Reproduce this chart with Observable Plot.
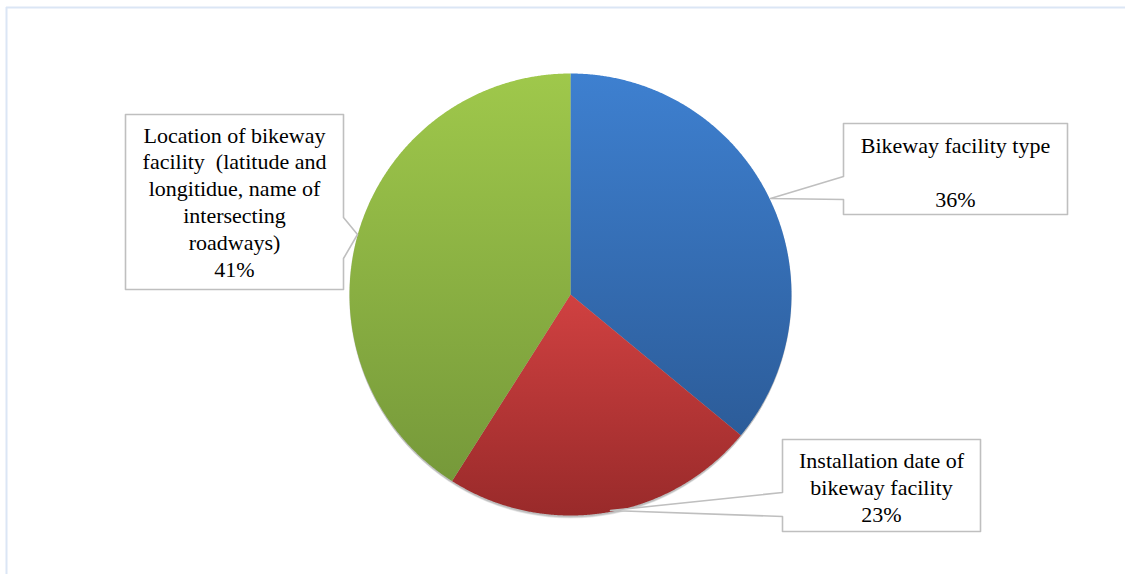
<!DOCTYPE html>
<html><head><meta charset="utf-8">
<script src="https://cdn.jsdelivr.net/npm/d3@7"></script>
<script src="https://cdn.jsdelivr.net/npm/@observablehq/plot@0.6"></script>
<style>body{margin:0;background:#fff}#chart svg{display:block}</style>
</head><body><div id="chart"></div>
<script>
// ---- data ----
const categories = [
  "Bikeway facility type",
  "Installation date of bikeway facility",
  "Location of bikeway facility (latitude and longitidue, name of intersecting roadways)"
];
const shares = [36, 23, 41];
const labelLines = [
  ["Bikeway facility type", "", "36%"],
  ["Installation date of", "bikeway facility", "23%"],
  ["Location of bikeway", "facility  (latitude and", "longitidue, name of", "intersecting", "roadways)", "41%"]
];

// ---- styles ----
const gradTop = ["#3e80d0", "#d04141", "#9fc84b"];
const gradBottom = ["#2c5c99", "#992a2a", "#76993a"];

// ---- layout ----
const W = 1125, H = 574;
const cx = 570, cy = 294, R = 221;
const callouts = [
  {L: 843, R: 1067, T: 123, B: 214, side: "left", p1: 176, p2: 199, tip: [770, 198], base: 152, lh: 27},
  {L: 782, R: 980, T: 439, B: 531, side: "left", p1: 492, p2: 516, tip: [610, 510], base: 467, lh: 27},
  {L: 125, R: 343, T: 114, B: 289, side: "right", p1: 217, p2: 258, tip: [357, 234], base: 142, lh: 26.8}
];
const shadowSteps = [1, 2, 3, 4];

// slices from data
const arcs = d3.pie().sort(null).value(d => d)(shares);
const slicePts = arcs.map(a => {
  const pts = [{x: cx, y: cy}];
  const n = Math.max(8, Math.ceil((a.endAngle - a.startAngle) / 0.005));
  for (let i = 0; i <= n; i++) {
    const t = a.startAngle + (a.endAngle - a.startAngle) * i / n;
    pts.push({x: cx + R * Math.sin(t), y: cy - R * Math.cos(t)});
  }
  return pts;
});

function calloutPoly(c) {
  if (c.side === "left") {
    return [[c.L, c.T], [c.R, c.T], [c.R, c.B], [c.L, c.B], [c.L, c.p2], c.tip, [c.L, c.p1], [c.L, c.T]]
      .map(([x, y]) => ({x, y}));
  }
  return [[c.L, c.T], [c.R, c.T], [c.R, c.p1], c.tip, [c.R, c.p2], [c.R, c.B], [c.L, c.B], [c.L, c.T]]
    .map(([x, y]) => ({x, y}));
}

const textMarks = labelLines.map((lines, i) => {
  const c = callouts[i];
  const rows = lines.map((t, j) => ({x: (c.L + c.R) / 2, y: c.base + j * c.lh, text: t}));
  return Plot.text(rows, {x: "x", y: "y", text: "text", textAnchor: "middle", lineAnchor: "bottom",
    fontFamily: "Liberation Serif", fontSize: 22});
});

const marks = [
  Plot.ruleY([7], {x1: 6, x2: W, stroke: "#dbe6f5", strokeWidth: 2}),
  Plot.ruleX([6], {y1: 7, y2: H, stroke: "#dbe6f5", strokeWidth: 2}),
  Plot.dot(shadowSteps.map(k => ({x: cx, y: cy + k, k})), {x: "x", y: "y", r: d => R + 1 - d.k * 0.5, fill: "#000", fillOpacity: 0.07, stroke: "none"}),
  ...slicePts.map((pts, i) => Plot.line(pts, {x: "x", y: "y", fill: `url(#grad${i})`, stroke: "none"})),
  ...callouts.map(c => Plot.line(calloutPoly(c), {x: "x", y: "y", fill: "#fff", stroke: "#bfbfbf", strokeWidth: 1.6})),
  ...textMarks
];

const svg = Plot.plot({
  width: W, height: H, margin: 0,
  x: {domain: [0, W], range: [0, W], axis: null},
  y: {domain: [0, H], range: [0, H], axis: null},
  r: {type: "identity"},
  style: {background: "#fff", fontFamily: "Liberation Serif"},
  marks
});

const s = d3.select(svg);
s.attr("font-family", "Liberation Serif");
s.selectAll("text").attr("font-family", "Liberation Serif").attr("fill", "#000");
const defs = s.append("defs");
gradTop.forEach((c, i) => {
  const g = defs.append("linearGradient").attr("id", `grad${i}`)
    .attr("x1", 0).attr("y1", 0).attr("x2", 0).attr("y2", 1);
  g.append("stop").attr("offset", "0%").attr("stop-color", c);
  g.append("stop").attr("offset", "100%").attr("stop-color", gradBottom[i]);
});

document.getElementById("chart").appendChild(svg);
</script>
</body></html>
